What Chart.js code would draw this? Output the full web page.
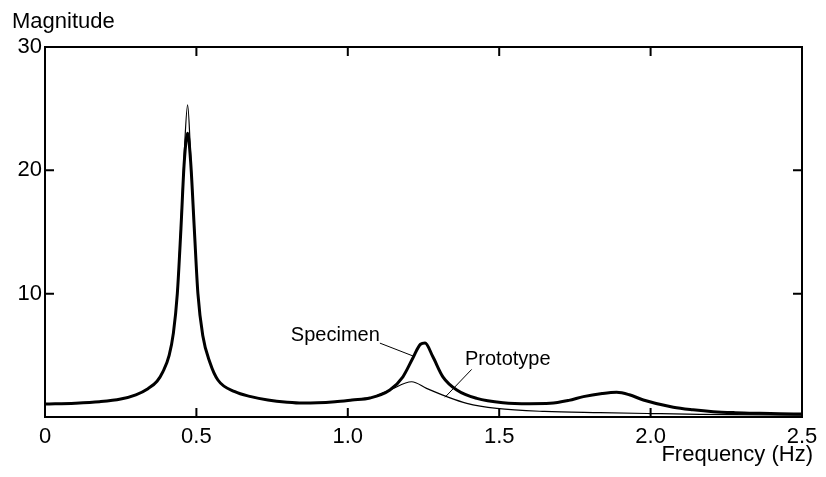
<!DOCTYPE html>
<html>
<head>
<meta charset="utf-8">
<script src="https://cdn.jsdelivr.net/npm/chart.js@4"></script>
<style>
  body { margin: 0; background: #fff; }
</style>
</head>
<body>
<canvas id="myChart" width="826" height="477"></canvas>
<script>
// frequency (Hz) / magnitude
var specFreq = [0.00, 0.10, 0.18, 0.25, 0.30, 0.34, 0.37, 0.39, 0.41, 0.424, 0.437, 0.449, 0.46, 0.471,
  0.481, 0.493, 0.505, 0.521, 0.545, 0.571, 0.627, 0.68, 0.736, 0.80, 0.849, 0.90, 0.958, 1.014,
  1.073, 1.139, 1.182, 1.215, 1.24, 1.255, 1.281, 1.314, 1.36, 1.426, 1.513, 1.60, 1.668, 1.73,
  1.778, 1.84, 1.888, 1.93, 1.976, 2.075, 2.14, 2.207, 2.28, 2.361, 2.49, 2.5];
var specMag = [1.05, 1.12, 1.24, 1.46, 1.8, 2.3, 2.9, 3.7, 5.0, 6.8, 10.0, 15.3, 20.7, 23.0,
  20.7, 15.3, 10.0, 6.6, 4.4, 3.0, 2.05, 1.65, 1.38, 1.2, 1.13, 1.15, 1.24, 1.38,
  1.54, 2.19, 3.26, 4.78, 5.9, 6.0, 4.88, 3.26, 2.19, 1.51, 1.16, 1.08, 1.11, 1.35,
  1.65, 1.9, 2.0, 1.8, 1.38, 0.79, 0.58, 0.43, 0.35, 0.3, 0.24, 0.24];

var protoFreq = [0.00, 0.10, 0.18, 0.25, 0.30, 0.34, 0.37, 0.39, 0.41, 0.424, 0.437, 0.449, 0.46, 0.471,
  0.481, 0.493, 0.505, 0.521, 0.545, 0.571, 0.627, 0.68, 0.736, 0.80, 0.849, 0.90, 0.958, 1.014,
  1.073, 1.139, 1.211, 1.26, 1.327, 1.393, 1.492, 1.65, 1.833, 2.0, 2.163, 2.49, 2.5];
var protoMag = [1.05, 1.12, 1.24, 1.46, 1.8, 2.3, 2.9, 3.7, 5.0, 6.8, 10.2, 15.8, 21.5, 25.3,
  21.3, 15.5, 10.0, 6.6, 4.4, 3.0, 2.05, 1.65, 1.38, 1.2, 1.13, 1.15, 1.24, 1.38,
  1.54, 2.19, 2.86, 2.32, 1.65, 1.11, 0.7, 0.45, 0.35, 0.28, 0.22, 0.16, 0.16];

var xTicks = [0, 0.5, 1.0, 1.5, 2.0, 2.5];
var yTicks = [0, 10, 20, 30];

function toPoints(xs, ys) {
  return xs.map(function (x, i) { return { x: x, y: ys[i] }; });
}

Chart.defaults.font.family = "'Liberation Sans', Arial, sans-serif";
Chart.defaults.color = '#000';

var frame = {
  id: 'frame',
  afterDatasetsDraw: function (chart) {
    var c = chart.ctx, a = chart.chartArea;
    var xs = chart.scales.x, ys = chart.scales.y;
    c.save();
    c.strokeStyle = '#000';
    c.lineWidth = 2;
    c.strokeRect(a.left, a.top, a.right - a.left, a.bottom - a.top);

    // inward ticks
    c.beginPath();
    xTicks.slice(1, -1).forEach(function (v) {
      var px = xs.getPixelForValue(v);
      c.moveTo(px, a.bottom); c.lineTo(px, a.bottom - 9);
      c.moveTo(px, a.top); c.lineTo(px, a.top + 9);
    });
    yTicks.slice(1, -1).forEach(function (v) {
      var py = ys.getPixelForValue(v);
      c.moveTo(a.left, py); c.lineTo(a.left + 9, py);
      c.moveTo(a.right, py); c.lineTo(a.right - 9, py);
    });
    c.stroke();

    // leader lines
    c.lineWidth = 1;
    c.beginPath();
    c.moveTo(xs.getPixelForValue(1.106), ys.getPixelForValue(5.99));
    c.lineTo(xs.getPixelForValue(1.216), ys.getPixelForValue(4.94));
    c.moveTo(xs.getPixelForValue(1.409), ys.getPixelForValue(3.86));
    c.lineTo(xs.getPixelForValue(1.321), ys.getPixelForValue(1.6));
    c.stroke();

    c.fillStyle = '#000';
    c.font = "20px 'Liberation Sans', Arial, sans-serif";
    c.textBaseline = 'alphabetic';
    c.textAlign = 'left';
    c.fillText('Specimen', xs.getPixelForValue(0.812), ys.getPixelForValue(6.2));
    c.fillText('Prototype', xs.getPixelForValue(1.387), ys.getPixelForValue(4.2));

    // axis titles
    c.font = "22px 'Liberation Sans', Arial, sans-serif";
    c.fillText('Magnitude', 12, 28);
    c.textAlign = 'right';
    c.fillText('Frequency (Hz)', 813, 461);
    c.restore();
  }
};

var ctx = document.getElementById('myChart').getContext('2d');

var myChart = new Chart(ctx, {
  type: 'line',
  data: {
    datasets: [{
      label: 'Prototype',
      data: toPoints(protoFreq, protoMag),
      borderColor: '#000',
      borderWidth: 1.2,
      pointRadius: 0,
      cubicInterpolationMode: 'monotone'
    }, {
      label: 'Specimen',
      data: toPoints(specFreq, specMag),
      borderColor: '#000',
      borderWidth: 3,
      pointRadius: 0,
      cubicInterpolationMode: 'monotone'
    }]
  },
  options: {
    responsive: false,
    animation: false,
    layout: { padding: { top: 47, right: 24, left: 0, bottom: 0 } },
    plugins: { legend: { display: false }, tooltip: { enabled: false } },
    scales: {
      x: {
        type: 'linear',
        min: 0, max: 2.5,
        afterFit: function (s) { s.height = 60; },
        afterBuildTicks: function (s) { s.ticks = xTicks.map(function (v) { return { value: v }; }); },
        grid: { display: false, drawTicks: false, tickLength: 0 },
        border: { display: false },
        ticks: {
          padding: 7,
          font: { size: 22 },
          callback: function (v) { return v === 0 ? '0' : v.toFixed(1); }
        }
      },
      y: {
        min: 0, max: 30,
        afterFit: function (s) { s.width = 45; },
        afterBuildTicks: function (s) { s.ticks = yTicks.map(function (v) { return { value: v }; }); },
        grid: { display: false, drawTicks: false, tickLength: 0 },
        border: { display: false },
        ticks: {
          padding: 3,
          font: { size: 22 },
          callback: function (v) { return v === 0 ? '' : v; }
        }
      }
    }
  },
  plugins: [frame]
});
</script>
</body>
</html>
